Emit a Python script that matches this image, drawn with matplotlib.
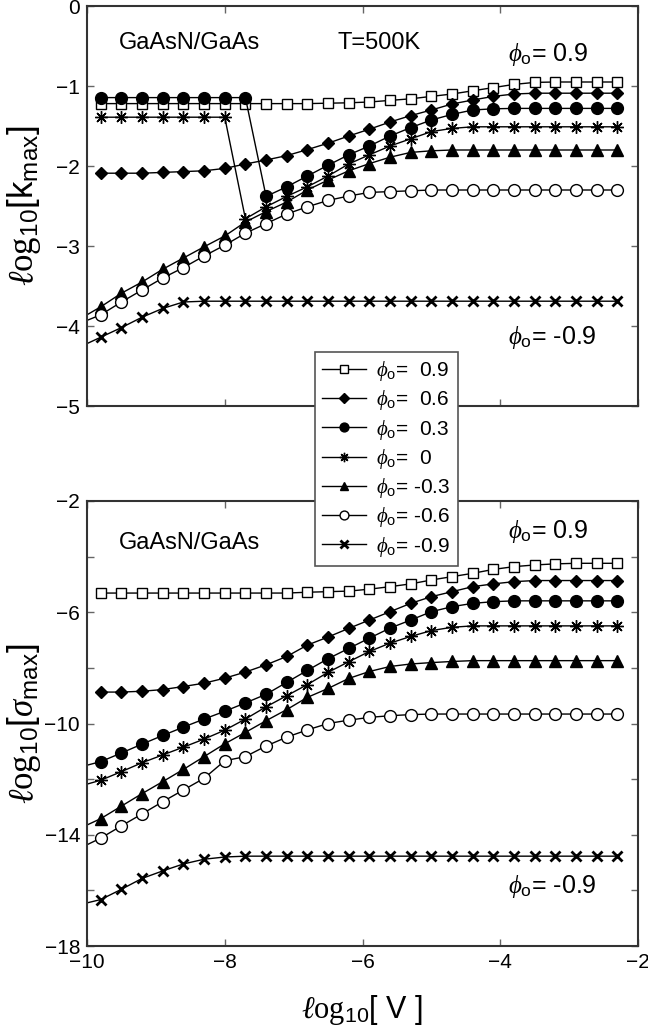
import matplotlib
matplotlib.use("Agg")
import matplotlib.pyplot as plt
from matplotlib.lines import Line2D

plt.rcParams['font.family'] = ['Liberation Sans', 'DejaVu Sans']
plt.rcParams['mathtext.fontset'] = 'custom'
plt.rcParams['mathtext.rm'] = 'Liberation Serif'
plt.rcParams['mathtext.it'] = 'Liberation Serif:italic'
plt.rcParams['mathtext.sf'] = 'Liberation Sans'

# log10[V] en los puntos con marcador
x_v = [-9.8, -9.5, -9.2, -8.9, -8.6, -8.3, -8.0, -7.7, -7.4, -7.1, -6.8, -6.5, -6.2,
       -5.9, -5.6, -5.3, -5.0, -4.7, -4.4, -4.1, -3.8, -3.5, -3.2, -2.9, -2.6, -2.3]
x_edge = -10.0

phi_labels = ["0.9", "0.6", "0.3", "0", "-0.3", "-0.6", "-0.9"]

# panel superior: log10[k_max]
k_09 = [-1.22, -1.22, -1.22, -1.22, -1.22, -1.22, -1.22, -1.22, -1.22, -1.22, -1.22, -1.215, -1.21,
        -1.20, -1.18, -1.16, -1.13, -1.10, -1.06, -1.02, -0.98, -0.955, -0.95, -0.95, -0.95, -0.95]
k_06 = [-2.09, -2.09, -2.09, -2.08, -2.07, -2.06, -2.03, -1.975, -1.925, -1.87, -1.795, -1.715, -1.625,
        -1.54, -1.45, -1.37, -1.30, -1.225, -1.175, -1.13, -1.10, -1.09, -1.09, -1.09, -1.09, -1.09]
k_03 = [-1.145, -1.145, -1.145, -1.145, -1.145, -1.145, -1.145, -1.145, -2.38, -2.26, -2.125, -1.99, -1.86,
        -1.75, -1.625, -1.52, -1.425, -1.355, -1.30, -1.285, -1.28, -1.28, -1.28, -1.28, -1.28, -1.28]
k_00 = [-1.39, -1.39, -1.39, -1.39, -1.39, -1.39, -1.39, -2.66, -2.51, -2.38, -2.26, -2.125, -1.975,
        -1.86, -1.75, -1.66, -1.57, -1.53, -1.51, -1.51, -1.51, -1.51, -1.51, -1.51, -1.51, -1.51]
k_m03 = [-3.76, -3.59, -3.45, -3.29, -3.15, -3.01, -2.875, -2.70, -2.57, -2.45, -2.30, -2.175, -2.06,
         -1.97, -1.89, -1.83, -1.81, -1.80, -1.80, -1.80, -1.80, -1.80, -1.80, -1.80, -1.80, -1.80]
k_m06 = [-3.86, -3.70, -3.55, -3.40, -3.27, -3.125, -2.99, -2.84, -2.72, -2.60, -2.51, -2.43, -2.375,
         -2.33, -2.32, -2.31, -2.30, -2.30, -2.30, -2.30, -2.30, -2.30, -2.30, -2.30, -2.30, -2.30]
k_m09 = [-4.14, -4.02, -3.89, -3.78, -3.70, -3.69, -3.69, -3.69, -3.69, -3.69, -3.69, -3.69, -3.69,
         -3.69, -3.69, -3.69, -3.69, -3.69, -3.69, -3.69, -3.69, -3.69, -3.69, -3.69, -3.69, -3.69]
# valor donde la linea toca el eje izquierdo (None = empieza en el primer marcador)
k_edge = [None, None, None, None, -3.86, -3.93, -4.22]

# panel inferior: log10[sigma_max]
s_09 = [-5.31, -5.31, -5.31, -5.31, -5.31, -5.31, -5.31, -5.31, -5.31, -5.31, -5.28, -5.26, -5.24,
        -5.17, -5.08, -4.98, -4.84, -4.72, -4.60, -4.46, -4.36, -4.30, -4.26, -4.24, -4.24, -4.24]
s_06 = [-8.87, -8.87, -8.84, -8.78, -8.67, -8.55, -8.37, -8.15, -7.89, -7.59, -7.18, -6.89, -6.58,
        -6.28, -5.98, -5.68, -5.44, -5.26, -5.08, -4.98, -4.90, -4.86, -4.86, -4.86, -4.86, -4.86]
s_03 = [-11.37, -11.06, -10.74, -10.43, -10.13, -9.84, -9.56, -9.26, -8.95, -8.52, -8.09, -7.67, -7.30,
        -6.93, -6.57, -6.28, -5.98, -5.80, -5.68, -5.62, -5.59, -5.59, -5.59, -5.59, -5.59, -5.59]
s_00 = [-12.04, -11.73, -11.41, -11.13, -10.85, -10.56, -10.24, -9.84, -9.40, -9.00, -8.60, -8.16, -7.78,
        -7.41, -7.11, -6.87, -6.66, -6.54, -6.49, -6.49, -6.49, -6.49, -6.49, -6.49, -6.49, -6.49]
s_m03 = [-13.42, -12.97, -12.52, -12.09, -11.65, -11.19, -10.73, -10.32, -9.90, -9.50, -9.06, -8.74, -8.38,
         -8.13, -7.95, -7.86, -7.81, -7.77, -7.74, -7.74, -7.74, -7.74, -7.74, -7.74, -7.74, -7.74]
s_m06 = [-14.12, -13.68, -13.25, -12.81, -12.39, -11.97, -11.34, -11.19, -10.81, -10.49, -10.23, -10.00, -9.88,
         -9.78, -9.72, -9.68, -9.66, -9.66, -9.66, -9.66, -9.66, -9.66, -9.66, -9.66, -9.66, -9.66]
s_m09 = [-16.33, -15.96, -15.57, -15.30, -15.05, -14.88, -14.80, -14.77, -14.77, -14.77, -14.77, -14.77, -14.77,
         -14.77, -14.77, -14.77, -14.77, -14.77, -14.77, -14.77, -14.77, -14.77, -14.77, -14.77, -14.77, -14.77]
s_edge = [None, None, -11.50, -12.18, -13.65, -14.36, -16.45]

# estilo de cada serie: (marcador, relleno, tamaño, grosor borde)
estilos = [("s", "white", 7, 1.0),
           ("D", "black", 6.5, 1.0),
           ("o", "black", 8.5, 1.0),
           ((8, 2, 0), "black", 9, 1.0),
           ("^", "black", 8, 1.0),
           ("o", "white", 8.5, 1.0),
           ("x", "black", 7, 2.0)]

fig = plt.figure(figsize=(6.48, 10.25), dpi=100)
ax1 = fig.add_axes([87 / 648, 1 - 406 / 1025, 551 / 648, 400 / 1025])
ax2 = fig.add_axes([87 / 648, 1 - 946 / 1025, 551 / 648, 445 / 1025])


def dibujar(ax, series, bordes):
    for ys, e0, (m, fc, ms, mew) in zip(series, bordes, estilos):
        if e0 is None:
            xs, yy, mk = x_v, ys, None
        else:
            xs, yy, mk = [x_edge] + x_v, [e0] + ys, slice(1, None)
        ax.plot(xs, yy, color="black", lw=1.0, marker=m, ms=ms, mfc=fc, mec="black",
                mew=mew, markevery=mk, clip_on=True)


dibujar(ax1, [k_09, k_06, k_03, k_00, k_m03, k_m06, k_m09], k_edge)
dibujar(ax2, [s_09, s_06, s_03, s_00, s_m03, s_m06, s_m09], s_edge)

for ax in (ax1, ax2):
    ax.set_xlim(-10, -2)
    ax.set_xticks([-10, -8, -6, -4, -2])
    ax.tick_params(which="both", direction="in", top=True, right=True, length=5,
                   width=1.0, color="#666666", labelsize=15, pad=5)
    for sp in ax.spines.values():
        sp.set_color("#333333")
        sp.set_linewidth(1.5)

ax1.set_ylim(-5, 0)
ax1.set_yticks([-5, -4, -3, -2, -1, 0])
ax1.tick_params(labelbottom=False)

ax2.set_ylim(-18, -2)
ax2.set_yticks([-18, -14, -10, -6, -2])
ax2.set_yticks([-16, -12, -8, -4], minor=True)

ax1.set_ylabel(r"$\ell\mathrm{og}_{\mathsf{10}}$[k$_{\mathsf{max}}$]", fontsize=25)
ax2.set_ylabel(r"$\ell\mathrm{og}_{\mathsf{10}}$[$\sigma_{\mathsf{max}}$]", fontsize=25)
ax2.set_xlabel(r"$\ell\mathrm{og}_{\mathsf{10}}$[ V ]", fontsize=22)
ax1.yaxis.set_label_coords(-0.08, 0.5)
ax2.yaxis.set_label_coords(-0.08, 0.5)
ax2.xaxis.set_label_coords(0.5, -0.105)

ax1.text(-9.54, -0.46, "GaAsN/GaAs", fontsize=17, va="center")
ax1.text(-6.37, -0.46, "T=500K", fontsize=17, va="center")
ax1.text(-3.89, -0.61, r"$\phi_{\mathsf{o}}$= 0.9", fontsize=18, va="center")
ax1.text(-3.89, -4.14, r"$\phi_{\mathsf{o}}$= -0.9", fontsize=18, va="center")
ax2.text(-9.54, -3.5, "GaAsN/GaAs", fontsize=17, va="center")
ax2.text(-3.89, -3.10, r"$\phi_{\mathsf{o}}$= 0.9", fontsize=18, va="center")
ax2.text(-3.89, -15.87, r"$\phi_{\mathsf{o}}$= -0.9", fontsize=18, va="center")

# leyenda comun a los dos paneles
handles = []
for m, fc, ms, mew in estilos:
    handles.append(Line2D([], [], color="black", lw=1.0, marker=m, ms=ms * 0.75,
                          mfc=fc, mec="black", mew=mew))
labels = []
for p in phi_labels:
    sep = "  " if not p.startswith("-") else " "
    labels.append(r"$\phi_{\mathsf{o}}$=" + sep + p)
leg = fig.legend(handles, labels, loc="upper left",
                 bbox_to_anchor=(315 / 648, 1 - 352 / 1025), borderaxespad=0,
                 fontsize=15, fancybox=False, framealpha=1, edgecolor="#555555",
                 handlelength=2.1, labelspacing=0.25, handletextpad=0.5,
                 borderpad=0.35)
leg.get_frame().set_linewidth(1.2)

fig.savefig("out.png", dpi=100)
